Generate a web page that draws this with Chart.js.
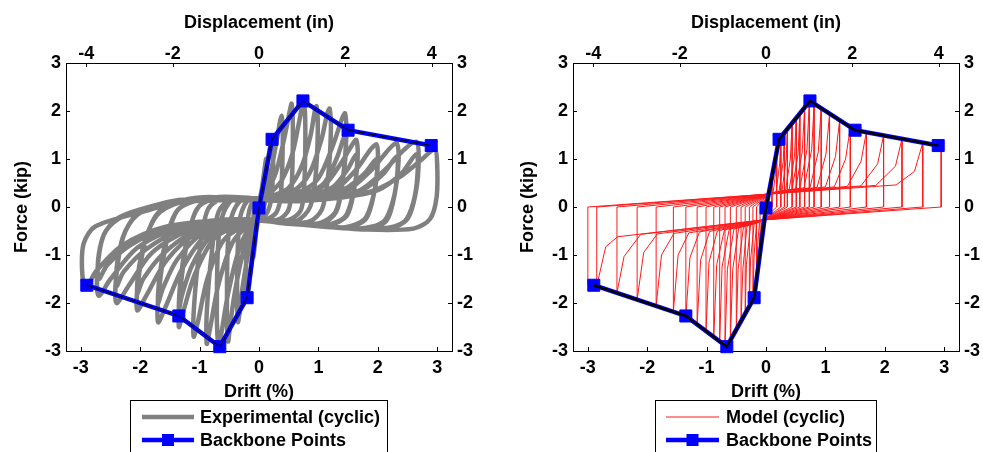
<!DOCTYPE html>
<html>
<head>
<meta charset="utf-8">
<script src="https://cdn.jsdelivr.net/npm/chart.js@4.4.1/dist/chart.umd.min.js"></script>
<style>
  html, body { margin: 0; padding: 0; background: #fff; }
  #wrap { position: relative; width: 983px; height: 452px; overflow: hidden; }
  canvas { position: absolute; top: 0; }
  #left { left: 0; }
  #right { left: 491px; }
</style>
</head>
<body>
<div id="wrap">
  <canvas id="left" width="491" height="452"></canvas>
  <canvas id="right" width="492" height="452"></canvas>
</div>
<script>
// axes
const driftTicks = [-3, -2, -1, 0, 1, 2, 3]
const dispTicks = [-4, -2, 0, 2, 4]
const forceTicks = [-3, -2, -1, 0, 1, 2, 3]
const driftRange = [-3.25, 3.25]
const dispRange = [-4.47, 4.47] // same span as drift, in inches
const forceRange = [-3, 3]

// backbone points (drift %, force kip)
const backboneDrift = [-2.90, -1.35, -0.66, -0.20, 0.0, 0.22, 0.74, 1.50, 2.90]
const backboneForce = [-1.63, -2.27, -2.91, -1.89, -0.02, 1.41, 2.21, 1.60, 1.28]

// experimental cycles: [drift, force], positive half then negative half
const exp01 = [[0,0.08],[0.05,0.4],[0.1,0.85],[0.12,1.0],[0.13,0.7],[0.1,0.1],[0.04,-0.15],[0,-0.2],
  [-0.04,-0.45],[-0.08,-0.9],[-0.1,-1.05],[-0.11,-0.7],[-0.08,-0.05],[-0.03,0.1],[0,0.1]]
const exp02 = [[0,0.1],[0.08,0.45],[0.16,1.05],[0.22,1.45],[0.24,1.1],[0.21,0.2],[0.12,-0.15],[0,-0.22],
  [-0.06,-0.5],[-0.13,-1.2],[-0.2,-1.9],[-0.22,-1.4],[-0.19,-0.3],[-0.12,0.08],[0,0.12]]
const exp03 = [[0.08,0.3],[0.2,0.75],[0.3,1.4],[0.38,1.9],[0.4,1.4],[0.37,0.3],[0.3,-0.1],[0.15,-0.24],[0,-0.24],
  [-0.08,-0.4],[-0.18,-0.95],[-0.28,-1.7],[-0.35,-2.4],[-0.37,-1.8],[-0.33,-0.3],[-0.2,0.12],[0,0.13]]
const exp04 = [[0.12,0.3],[0.28,0.7],[0.42,1.4],[0.51,1.95],[0.55,2.15],[0.57,1.6],[0.55,0.4],[0.5,-0.05],[0.35,-0.25],[0.15,-0.28],[0,-0.25],
  [-0.12,-0.4],[-0.27,-0.95],[-0.41,-1.8],[-0.49,-2.5],[-0.52,-2.8],[-0.54,-2.1],[-0.5,-0.4],[-0.32,0.12],[0,0.14]]
const exp05 = [[0.15,0.25],[0.38,0.55],[0.56,1.1],[0.68,1.8],[0.75,2.2],[0.78,1.7],[0.76,0.4],[0.7,-0.08],[0.5,-0.27],[0.2,-0.3],[0,-0.26],
  [-0.15,-0.4],[-0.34,-0.9],[-0.52,-1.8],[-0.63,-2.6],[-0.68,-2.95],[-0.71,-2.2],[-0.66,-0.4],[-0.45,0.15],[0,0.15]]
const exp06 = [[0.2,0.22],[0.5,0.4],[0.72,0.85],[0.87,1.5],[0.94,2.0],[0.97,2.1],[0.99,1.6],[0.95,0.6],[0.86,0.0],[0.65,-0.28],[0.3,-0.32],[0,-0.27],
  [-0.2,-0.4],[-0.45,-0.75],[-0.68,-1.6],[-0.82,-2.5],[-0.88,-2.85],[-0.88,-2.2],[-0.8,-1.0],[-0.68,-0.1],[-0.45,0.17],[0,0.16]]
const exp07 = [[0.25,0.22],[0.6,0.35],[0.85,0.7],[1.05,1.4],[1.15,1.95],[1.19,2.05],[1.21,1.55],[1.16,0.6],[1.06,-0.05],[0.85,-0.3],[0.4,-0.33],[0,-0.28],
  [-0.25,-0.38],[-0.6,-0.7],[-0.87,-1.5],[-1.03,-2.4],[-1.1,-2.7],[-1.09,-2.0],[-1.0,-0.9],[-0.86,-0.05],[-0.6,0.18],[0,0.17]]
const exp08 = [[0.3,0.22],[0.7,0.32],[1.0,0.6],[1.25,1.3],[1.4,1.85],[1.45,1.95],[1.47,1.45],[1.41,0.55],[1.3,-0.1],[1.05,-0.35],[0.5,-0.35],[0,-0.28],
  [-0.3,-0.36],[-0.75,-0.65],[-1.08,-1.4],[-1.28,-2.2],[-1.35,-2.5],[-1.33,-1.8],[-1.22,-0.8],[-1.05,-0.05],[-0.75,0.2],[0,0.18]]
const exp08b = [[0.3,0.2],[0.8,0.3],[1.1,0.5],[1.32,1.05],[1.45,1.5],[1.46,1.1],[1.39,0.4],[1.28,-0.12],[1.0,-0.34],[0.5,-0.34],[0,-0.27],
  [-0.3,-0.34],[-0.8,-0.6],[-1.12,-1.2],[-1.3,-1.85],[-1.35,-2.15],[-1.32,-1.5],[-1.2,-0.6],[-1.02,0.0],[-0.7,0.18],[0,0.17]]
const exp09 = [[0.35,0.2],[0.8,0.28],[1.1,0.45],[1.4,0.95],[1.58,1.32],[1.64,1.4],[1.66,1.0],[1.6,0.35],[1.48,-0.18],[1.2,-0.37],[0.7,-0.36],[0,-0.28],
  [-0.35,-0.34],[-0.9,-0.6],[-1.3,-1.3],[-1.58,-2.1],[-1.7,-2.4],[-1.68,-1.7],[-1.56,-0.75],[-1.38,-0.08],[-1.0,0.18],[0,0.18]]
const exp09b = [[0.35,0.18],[0.9,0.26],[1.25,0.42],[1.5,0.8],[1.64,1.1],[1.65,0.8],[1.58,0.25],[1.45,-0.2],[1.15,-0.37],[0.6,-0.35],[0,-0.27],
  [-0.35,-0.32],[-0.95,-0.55],[-1.38,-1.1],[-1.62,-1.7],[-1.7,-2.0],[-1.67,-1.4],[-1.55,-0.6],[-1.36,-0.05],[-0.9,0.17],[0,0.17]]
const exp10 = [[0.4,0.18],[0.9,0.25],[1.3,0.38],[1.65,0.8],[1.88,1.2],[1.98,1.3],[2.0,0.95],[1.94,0.3],[1.8,-0.25],[1.5,-0.42],[0.9,-0.38],[0,-0.28],
  [-0.4,-0.32],[-1.05,-0.55],[-1.55,-1.1],[-1.9,-1.85],[-2.05,-2.15],[-2.03,-1.5],[-1.9,-0.65],[-1.7,-0.12],[-1.3,0.12],[-0.7,0.2],[0,0.17]]
const exp10b = [[0.4,0.16],[1.0,0.24],[1.45,0.38],[1.78,0.7],[1.98,1.0],[1.99,0.7],[1.92,0.2],[1.78,-0.25],[1.45,-0.42],[0.8,-0.37],[0,-0.27],
  [-0.4,-0.3],[-1.1,-0.52],[-1.62,-0.98],[-1.95,-1.5],[-2.05,-1.8],[-2.02,-1.25],[-1.88,-0.55],[-1.66,-0.1],[-1.2,0.13],[0,0.16]]
const exp11 = [[0.45,0.15],[1.0,0.23],[1.5,0.36],[1.9,0.78],[2.2,1.22],[2.32,1.33],[2.35,0.95],[2.29,0.3],[2.15,-0.28],[1.85,-0.45],[1.0,-0.4],[0,-0.28],
  [-0.45,-0.3],[-1.2,-0.5],[-1.8,-0.95],[-2.2,-1.65],[-2.4,-2.0],[-2.4,-1.4],[-2.28,-0.6],[-2.05,-0.15],[-1.6,0.05],[-1.0,0.2],[0,0.16]]
const exp11b = [[0.45,0.14],[1.2,0.22],[1.75,0.36],[2.1,0.7],[2.32,1.05],[2.33,0.7],[2.26,0.15],[2.1,-0.3],[1.7,-0.45],[0.9,-0.38],[0,-0.27],
  [-0.45,-0.28],[-1.3,-0.47],[-1.9,-0.88],[-2.28,-1.35],[-2.4,-1.65],[-2.38,-1.1],[-2.25,-0.5],[-2.0,-0.12],[-1.4,0.1],[0,0.15]]
const exp12 = [[0.5,0.13],[1.2,0.22],[1.7,0.35],[2.1,0.75],[2.45,1.2],[2.65,1.36],[2.69,1.0],[2.64,0.3],[2.5,-0.25],[2.2,-0.44],[1.5,-0.44],[0.7,-0.35],[0,-0.28],
  [-0.5,-0.28],[-1.4,-0.45],[-2.05,-0.85],[-2.5,-1.5],[-2.7,-1.85],[-2.72,-1.3],[-2.62,-0.6],[-2.4,-0.25],[-2.0,-0.05],[-1.3,0.15],[0,0.15]]
const exp12b = [[0.5,0.12],[1.4,0.2],[2.0,0.35],[2.4,0.7],[2.65,1.1],[2.67,0.7],[2.6,0.1],[2.45,-0.3],[2.05,-0.45],[1.2,-0.42],[0,-0.27],
  [-0.5,-0.26],[-1.5,-0.43],[-2.15,-0.78],[-2.55,-1.2],[-2.7,-1.5],[-2.7,-1.0],[-2.58,-0.5],[-2.3,-0.2],[-1.6,0.05],[-0.8,0.18],[0,0.15]]
const exp13 = [[0.55,0.12],[1.3,0.2],[1.9,0.33],[2.4,0.65],[2.75,1.0],[2.96,1.2],[3.0,0.9],[2.99,0.2],[2.88,-0.25],[2.6,-0.45],[1.8,-0.47],[0.8,-0.37],[0,-0.28],
  [-0.55,-0.26],[-1.6,-0.42],[-2.3,-0.8],[-2.75,-1.35],[-2.92,-1.7],[-2.98,-1.3],[-2.95,-0.75],[-2.75,-0.4],[-1.96,-0.1],[-1.0,0.2],[0,0.14]]
const expCycles = [exp01, exp02, exp03, exp04, exp05, exp06, exp07, exp08, exp08b, exp09, exp09b,
  exp10, exp10b, exp11, exp11b, exp12, exp12b, exp13]

// model cycles: peaks on the backbone, then reload knees toward the previous peak
const modelPosDrift = [0.10, 0.18, 0.25, 0.31, 0.36, 0.44, 0.51, 0.57, 0.65, 0.73, 0.81, 0.93, 1.07, 1.24, 1.42, 1.69, 1.98, 2.29, 2.64, 2.95]
const modelPosForce = [0.64, 1.15, 1.46, 1.55, 1.63, 1.75, 1.86, 1.95, 2.07, 2.19, 2.15, 2.06, 1.94, 1.81, 1.66, 1.56, 1.49, 1.42, 1.34, 1.27]
const modelNegDrift = [-0.10, -0.16, -0.22, -0.28, -0.35, -0.42, -0.50, -0.60, -0.69, -0.78, -0.88, -1.01, -1.16, -1.35, -1.56, -1.85, -2.17, -2.51, -2.85, -3.00]
const modelNegForce = [-0.97, -1.55, -1.94, -2.07, -2.23, -2.38, -2.55, -2.77, -2.89, -2.80, -2.71, -2.59, -2.45, -2.27, -2.18, -2.06, -1.93, -1.79, -1.65, -1.62]
const modelPosKneeX = [0.07, 0.12, 0.17, 0.22, 0.27, 0.33, 0.39, 0.44, 0.50, 0.57, 0.64, 0.74, 0.86, 1.00, 1.15, 1.37, 1.60, 1.85, 2.19]
const modelPosKneeY = [0.30, 0.30, 0.32, 0.33, 0.34, 0.35, 0.36, 0.37, 0.38, 0.39, 0.40, 0.40, 0.41, 0.42, 0.42, 0.43, 0.44, 0.45, 0.46]
const modelPosBendX = [0.09, 0.16, 0.23, 0.29, 0.34, 0.41, 0.48, 0.54, 0.61, 0.69, 0.77, 0.88, 1.01, 1.17, 1.34, 1.60, 1.88, 2.18, 2.50]
const modelPosBendY = [0.45, 0.70, 0.90, 0.95, 1.00, 1.00, 1.05, 1.10, 1.15, 1.20, 1.20, 1.15, 1.10, 1.05, 1.00, 0.95, 0.90, 0.85, 0.74]
const modelNegKneeX = [-0.07, -0.11, -0.16, -0.20, -0.26, -0.32, -0.38, -0.46, -0.54, -0.62, -0.70, -0.82, -0.95, -1.12, -1.30, -1.55, -1.83, -2.11, -2.50]
const modelNegKneeY = [-0.30, -0.32, -0.34, -0.36, -0.38, -0.40, -0.42, -0.44, -0.46, -0.47, -0.48, -0.50, -0.51, -0.52, -0.54, -0.55, -0.56, -0.57, -0.62]
const modelNegBendX = [-0.09, -0.14, -0.20, -0.26, -0.33, -0.39, -0.47, -0.56, -0.65, -0.74, -0.83, -0.96, -1.10, -1.28, -1.48, -1.76, -2.06, -2.39, -2.70]
const modelNegBendY = [-0.55, -0.80, -1.00, -1.10, -1.20, -1.30, -1.30, -1.30, -1.30, -1.25, -1.20, -1.15, -1.10, -1.05, -1.00, -1.00, -0.95, -1.03, -0.83]
const modelPinchPos = [0.05, 0.27]
const modelPinchNeg = [-0.05, -0.27]

const pt = ([x, y]) => ({ x, y })

const expPath = expCycles.flat().map(pt)

const modelPath = [{ x: 0, y: 0 }]
modelPosDrift.forEach((d, k) => {
  if (k > 0) {
    modelPath.push(pt([modelPosKneeX[k - 1], modelPosKneeY[k - 1]]))
    modelPath.push(pt([modelPosBendX[k - 1], modelPosBendY[k - 1]]))
    modelPath.push(pt([modelPosDrift[k - 1], modelPosForce[k - 1]]))
  }
  modelPath.push(pt([d, modelPosForce[k]]))
  modelPath.push(pt([d, 0]))
  modelPath.push(pt(modelPinchNeg))
  if (k > 0) {
    modelPath.push(pt([modelNegKneeX[k - 1], modelNegKneeY[k - 1]]))
    modelPath.push(pt([modelNegBendX[k - 1], modelNegBendY[k - 1]]))
    modelPath.push(pt([modelNegDrift[k - 1], modelNegForce[k - 1]]))
  }
  modelPath.push(pt([modelNegDrift[k], modelNegForce[k]]))
  modelPath.push(pt([modelNegDrift[k], 0]))
  modelPath.push(pt(modelPinchPos))
})

const backbonePath = backboneDrift.map((x, i) => ({ x, y: backboneForce[i] }))

Chart.defaults.font.family = "'Liberation Sans', Arial, sans-serif"
Chart.defaults.font.size = 18
Chart.defaults.font.weight = 'bold'
Chart.defaults.color = '#000'

// MATLAB-style ticks pointing into the plot box
const insideTicks = {
  id: 'insideTicks',
  afterDraw(chart) {
    const { ctx, chartArea: a, scales } = chart
    const len = 4
    ctx.save()
    ctx.strokeStyle = '#000'
    ctx.lineWidth = 1
    ctx.beginPath()
    scales.x.ticks.forEach(t => {
      const p = Math.round(scales.x.getPixelForValue(t.value)) + 0.5
      ctx.moveTo(p, a.bottom); ctx.lineTo(p, a.bottom - len)
    })
    scales.x2.ticks.forEach(t => {
      const p = Math.round(scales.x2.getPixelForValue(t.value)) + 0.5
      ctx.moveTo(p, a.top); ctx.lineTo(p, a.top + len)
    })
    scales.y.ticks.forEach(t => {
      const p = Math.round(scales.y.getPixelForValue(t.value)) + 0.5
      ctx.moveTo(a.left, p); ctx.lineTo(a.left + len, p)
      ctx.moveTo(a.right, p); ctx.lineTo(a.right - len, p)
    })
    ctx.stroke()
    ctx.restore()
  }
}

// boxed legend under the plot, cut by the bottom of the figure
const boxLegend = {
  id: 'boxLegend',
  afterDraw(chart, args, o) {
    const ctx = chart.ctx
    ctx.save()
    ctx.strokeStyle = '#000'
    ctx.lineWidth = 1
    ctx.strokeRect(o.left + 0.5, o.top + 0.5, o.width, 80)
    const items = chart.data.datasets.filter(d => d.label)
    items.forEach((d, i) => {
      const y = o.rows[i]
      ctx.strokeStyle = d.borderColor
      ctx.lineWidth = d.borderWidth
      ctx.beginPath()
      ctx.moveTo(o.lineFrom, y)
      ctx.lineTo(o.lineTo, y)
      ctx.stroke()
      if (d.pointRadius) {
        const s = 12
        ctx.fillStyle = d.backgroundColor
        ctx.fillRect((o.lineFrom + o.lineTo) / 2 - s / 2, y - s / 2, s, s)
      }
      ctx.fillStyle = '#000'
      ctx.font = "bold 18px 'Liberation Sans', Arial, sans-serif"
      ctx.textBaseline = 'middle'
      ctx.fillText(d.label, o.textX, y + 1)
    })
    ctx.restore()
  }
}

const noGrid = { display: false, drawTicks: false }
const frame = { display: true, color: '#000', width: 1 }

function makeScales(leftW, rightW, yTitlePad) {
  return {
    x: {
      type: 'linear', position: 'bottom', min: driftRange[0], max: driftRange[1],
      afterBuildTicks: s => { s.ticks = driftTicks.map(v => ({ value: v })) },
      ticks: { padding: 6, maxRotation: 0, autoSkip: false },
      grid: noGrid, border: frame,
      title: { display: true, text: 'Drift (%)', padding: { top: 0, bottom: 49.5 } },
      afterFit: s => { s.height = 101 }
    },
    x2: {
      type: 'linear', position: 'top', min: dispRange[0], max: dispRange[1],
      afterBuildTicks: s => { s.ticks = dispTicks.map(v => ({ value: v })) },
      ticks: { padding: -2, maxRotation: 0, autoSkip: false },
      grid: noGrid, border: frame,
      title: { display: true, text: 'Displacement (in)', padding: { top: 12, bottom: 0 } },
      afterFit: s => { s.height = 63 }
    },
    y: {
      type: 'linear', position: 'left', min: forceRange[0], max: forceRange[1],
      afterBuildTicks: s => { s.ticks = forceTicks.map(v => ({ value: v })) },
      ticks: { padding: 5 },
      grid: noGrid, border: frame,
      title: { display: true, text: 'Force (kip)', padding: { top: yTitlePad, bottom: 0 } },
      afterFit: s => { s.width = leftW }
    },
    y2: {
      type: 'linear', position: 'right', min: forceRange[0], max: forceRange[1],
      afterBuildTicks: s => { s.ticks = forceTicks.map(v => ({ value: v })) },
      ticks: { padding: 5 },
      grid: noGrid, border: frame,
      afterFit: s => { s.width = rightW }
    }
  }
}

function backboneSets(coreWidth) {
  return [
    {
      label: 'Backbone Points', data: backbonePath, showLine: true,
      borderColor: '#0000ff', backgroundColor: '#0000ff', borderWidth: 4.5,
      pointStyle: 'rect', pointRadius: 8.5, pointBorderWidth: 1, pointBorderColor: '#0000ff',
      clip: false, order: 1
    },
    {
      data: backbonePath, showLine: true, borderColor: '#000', borderWidth: coreWidth,
      pointRadius: 0, clip: false, order: 0
    }
  ]
}

new Chart(document.getElementById('left'), {
  type: 'scatter',
  data: {
    datasets: [
      {
        label: 'Experimental (cyclic)', data: expPath, showLine: true,
        borderColor: '#808080', borderWidth: 4.5, tension: 0.3,
        borderJoinStyle: 'round', borderCapStyle: 'round', pointRadius: 0, order: 2
      },
      ...backboneSets(1)
    ]
  },
  options: {
    responsive: false, animation: false, events: [], devicePixelRatio: 1,
    layout: { padding: 0 },
    plugins: {
      legend: { display: false }, tooltip: { enabled: false },
      boxLegend: { left: 130, top: 400, width: 257, rows: [417, 440], lineFrom: 142, lineTo: 194, textX: 200 }
    },
    scales: makeScales(66, 39, 11)
  },
  plugins: [insideTicks, boxLegend]
})

new Chart(document.getElementById('right'), {
  type: 'scatter',
  data: {
    datasets: [
      {
        label: 'Model (cyclic)', data: modelPath, showLine: true,
        borderColor: '#ff1a1a', borderWidth: 1, tension: 0,
        pointRadius: 0, order: 2
      },
      ...backboneSets(2.5)
    ]
  },
  options: {
    responsive: false, animation: false, events: [], devicePixelRatio: 1,
    layout: { padding: 0 },
    plugins: {
      legend: { display: false }, tooltip: { enabled: false },
      boxLegend: { left: 164, top: 400, width: 221, rows: [417, 440], lineFrom: 175, lineTo: 228, textX: 235 }
    },
    scales: makeScales(82, 24, 26.5)
  },
  plugins: [insideTicks, boxLegend]
})
</script>
</body>
</html>
